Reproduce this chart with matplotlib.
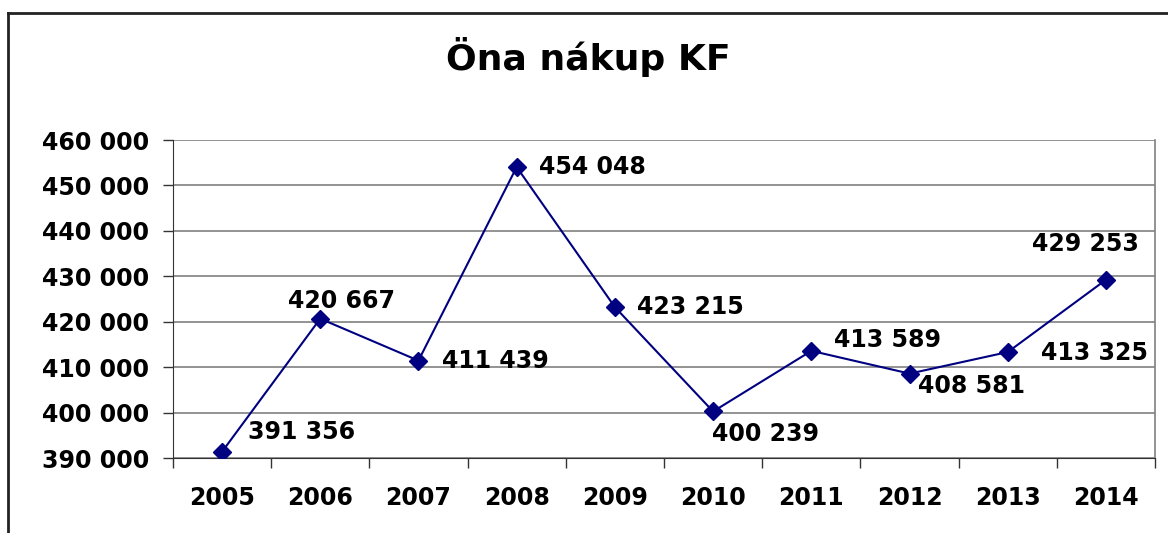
import matplotlib.pyplot as plt
import matplotlib.ticker as mticker
from matplotlib.lines import Line2D

years = ['2005', '2006', '2007', '2008', '2009', '2010', '2011', '2012', '2013', '2014']
values = [391356, 420667, 411439, 454048, 423215, 400239, 413589, 408581, 413325, 429253]
# label offsets in points (dx, dy) and horizontal alignment
label_offsets = [(19, 14, 'left'), (15, 13, 'center'), (17, 0, 'left'), (16, 0, 'left'),
                 (16, 0, 'left'), (-1, -16, 'left'), (16, 8, 'left'), (6, -9, 'left'),
                 (24, -1, 'left'), (-15, 26, 'center')]

plt.rcParams['font.family'] = 'DejaVu Sans'
plt.rcParams['font.weight'] = 'bold'

fig = plt.figure(figsize=(11.68, 5.33), dpi=100)
ax = fig.add_axes([0.148, 0.1407, 0.841, 0.5966])

x = list(range(len(years)))
ax.plot(x, values, color='#000080', lw=1.5, marker='D', markersize=9.5, zorder=3)

for xi, v, (dx, dy, ha) in zip(x, values, label_offsets):
    txt = f"{v:,}".replace(',', ' ')
    ax.annotate(txt, (xi, v), xytext=(dx, dy), textcoords='offset points',
                ha=ha, va='center', fontsize=17, fontweight='bold')

ax.set_ylim(390000, 460000)
ax.set_xlim(-0.5, 9.5)
ax.yaxis.set_major_locator(mticker.MultipleLocator(10000))
ax.yaxis.set_major_formatter(mticker.FuncFormatter(lambda v, p: f"{int(v):,}".replace(',', ' ')))
ax.grid(axis='y', color='#808080', lw=1.2)
ax.set_axisbelow(True)

ax.set_xticks([i - 0.5 for i in range(len(years) + 1)])
ax.set_xticklabels([])
ax.set_xticks(x, minor=True)
ax.set_xticklabels(years, minor=True)
ax.tick_params(axis='x', which='major', direction='out', length=7, width=1, color='#333333')
ax.tick_params(axis='x', which='minor', length=0, pad=20, labelsize=17)
ax.tick_params(axis='y', direction='out', length=7, width=1, color='#333333', labelsize=17, pad=10)

ax.spines['top'].set_visible(False)
ax.spines['right'].set_color('#808080')
ax.spines['right'].set_linewidth(1.2)
ax.spines['left'].set_color('#333333')
ax.spines['bottom'].set_color('#333333')

fig.text(0.504, 0.893, 'Öna nákup KF', ha='center', va='center', fontsize=26, fontweight='bold')

# outer chart frame (partially visible)
fig.add_artist(Line2D([0.007, 1.0], [0.976, 0.976], color='#222222', lw=2, transform=fig.transFigure))
fig.add_artist(Line2D([0.007, 0.007], [0.0, 0.976], color='#222222', lw=2, transform=fig.transFigure))

fig.savefig('out.png', dpi=100, facecolor='white')
